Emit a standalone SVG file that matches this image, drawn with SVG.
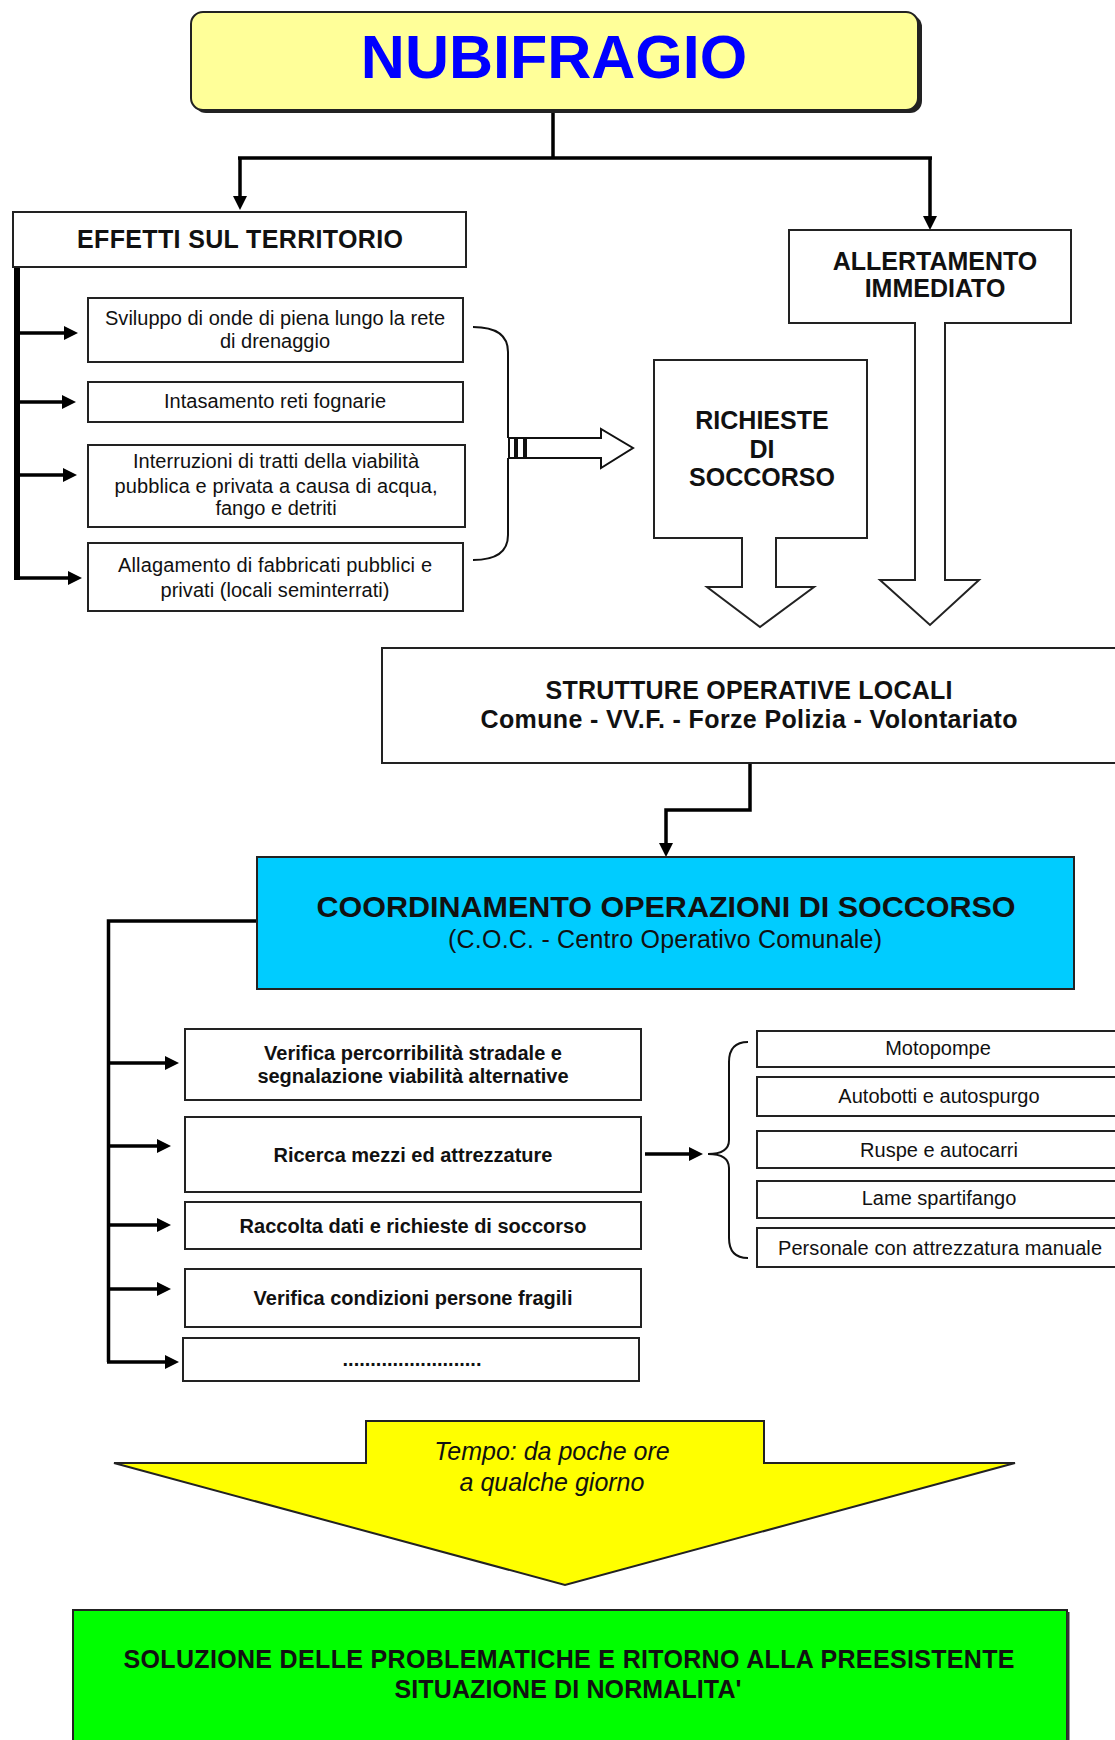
<svg xmlns="http://www.w3.org/2000/svg" width="1115" height="1740" viewBox="0 0 1115 1740">
<defs>
<style>
text{font-family:"Liberation Sans",Arial,sans-serif;fill:#111;text-anchor:middle}
.b{font-weight:bold}
.box{fill:#fff;stroke:#222;stroke-width:2}
.ln{fill:none;stroke:#000;stroke-width:3.5}
.thin{fill:none;stroke:#111;stroke-width:2}
.t20{font-size:20px}
.t25{font-size:25px}
</style>
<marker id="ah" viewBox="0 0 14 14" refX="8" refY="7" markerWidth="14" markerHeight="14" orient="auto" markerUnits="userSpaceOnUse"><path d="M0,0 L14,7 L0,14 z" fill="#000"/></marker>
</defs>
<rect width="1115" height="1740" fill="#fff"/>

<g id="connectors">
<path class="ln" d="M553,111 V158 M238,158 H932"/>
<path class="ln" d="M240,158 V204" marker-end="url(#ah)"/>
<path class="ln" d="M930,158 V224" marker-end="url(#ah)"/>
<path fill="none" stroke="#000" stroke-width="6" d="M17,266 V580"/>
<path class="ln" stroke-width="4" d="M17,333 H72" marker-end="url(#ah)"/>
<path class="ln" stroke-width="4" d="M17,402 H70" marker-end="url(#ah)"/>
<path class="ln" stroke-width="4" d="M17,475 H71" marker-end="url(#ah)"/>
<path class="ln" stroke-width="4" d="M14,578 H76" marker-end="url(#ah)"/>
<path class="thin" d="M473,327 Q508,327 508,352 V438 M508,458 V535 Q508,560 473,560"/>
<g id="striped-arrow">
<rect x="509" y="438" width="6" height="20" fill="#fff" stroke="#111" stroke-width="2"/>
<rect x="517" y="438" width="7" height="20" fill="#fff" stroke="#111" stroke-width="2"/>
<polygon points="526,438 601,438 601,429 633,448 601,468 601,458 526,458" fill="#fff" stroke="#111" stroke-width="2"/>
</g>
<path class="ln" d="M750,763 V810 H666 V851" marker-end="url(#ah)"/>
<path class="ln" d="M257,921 H108.5 V1362"/>
<path class="ln" d="M107,1063 H173" marker-end="url(#ah)"/>
<path class="ln" d="M107,1146 H165" marker-end="url(#ah)"/>
<path class="ln" d="M107,1225 H165" marker-end="url(#ah)"/>
<path class="ln" d="M107,1289 H165" marker-end="url(#ah)"/>
<path class="ln" d="M107,1362 H173" marker-end="url(#ah)"/>
<path class="ln" d="M645,1154 H697" marker-end="url(#ah)"/>
<path class="thin" d="M748,1042 Q729,1042 729,1062 V1140 Q729,1154 708,1154 Q729,1154 729,1168 V1238 Q729,1258 748,1258"/>
</g>

<g id="nubifragio">
<rect x="194" y="15" width="728" height="98" rx="12" fill="#222"/>
<rect x="191" y="12" width="727" height="98" rx="12" fill="#ffff99" stroke="#222" stroke-width="2"/>
<text x="554" y="78" class="b" style="font-size:61px;fill:#0000ff">NUBIFRAGIO</text>
</g>

<g id="effetti">
<rect class="box" x="13" y="212" width="453" height="55"/>
<text x="240" y="248" class="b t25" textLength="326">EFFETTI SUL TERRITORIO</text>
</g>

<g id="effetto-1">
<rect class="box" x="88" y="298" width="375" height="64"/>
<text x="275" y="325" class="t20" textLength="340">Sviluppo di onde di piena lungo la rete</text>
<text x="275" y="348" class="t20">di drenaggio</text>
</g>
<g id="effetto-2">
<rect class="box" x="88" y="382" width="375" height="40"/>
<text x="275" y="408" class="t20" textLength="222">Intasamento reti fognarie</text>
</g>
<g id="effetto-3">
<rect class="box" x="88" y="445" width="377" height="82"/>
<text x="276" y="468" class="t20" textLength="286">Interruzioni di tratti della viabilità</text>
<text x="276" y="493" class="t20" textLength="323">pubblica e privata a causa di acqua,</text>
<text x="276" y="515" class="t20">fango e detriti</text>
</g>
<g id="effetto-4">
<rect class="box" x="88" y="543" width="375" height="68"/>
<text x="275" y="572" class="t20" textLength="314">Allagamento di fabbricati pubblici e</text>
<text x="275" y="597" class="t20" textLength="229">privati (locali seminterrati)</text>
</g>

<g id="allertamento">
<polygon points="789,230 1071,230 1071,323 945,323 945,580 979,580 930,625 880,580 915,580 915,323 789,323" fill="#fff" stroke="#222" stroke-width="2"/>
<text x="935" y="270" class="b t25">ALLERTAMENTO</text>
<text x="935" y="297" class="b t25">IMMEDIATO</text>
</g>

<g id="richieste">
<polygon points="654,360 867,360 867,538 776,538 776,587 814,587 760,627 707,587 742,587 742,538 654,538" fill="#fff" stroke="#222" stroke-width="2"/>
<text x="762" y="429" class="b t25">RICHIESTE</text>
<text x="762" y="458" class="b t25">DI</text>
<text x="762" y="486" class="b t25">SOCCORSO</text>
</g>

<g id="strutture">
<rect class="box" x="382" y="648" width="740" height="115"/>
<text x="749" y="699" class="b t25" textLength="407">STRUTTURE OPERATIVE LOCALI</text>
<text x="749" y="728" class="b t25" textLength="537">Comune - VV.F. - Forze Polizia - Volontariato</text>
</g>

<g id="coc">
<rect x="257" y="857" width="817" height="132" fill="#00ccff" stroke="#222" stroke-width="2"/>
<text x="666" y="917" class="b" style="font-size:30px" textLength="699" lengthAdjust="spacingAndGlyphs">COORDINAMENTO OPERAZIONI DI SOCCORSO</text>
<text x="665" y="948" class="t25" textLength="434">(C.O.C. - Centro Operativo Comunale)</text>
</g>

<g id="azione-1">
<rect class="box" x="185" y="1029" width="456" height="71"/>
<text x="413" y="1060" class="b t20">Verifica percorribilità stradale e</text>
<text x="413" y="1083" class="b t20">segnalazione viabilità alternative</text>
</g>
<g id="azione-2">
<rect class="box" x="185" y="1117" width="456" height="75"/>
<text x="413" y="1162" class="b t20">Ricerca mezzi ed attrezzature</text>
</g>
<g id="azione-3">
<rect class="box" x="185" y="1202" width="456" height="47"/>
<text x="413" y="1233" class="b t20">Raccolta dati e richieste di soccorso</text>
</g>
<g id="azione-4">
<rect class="box" x="185" y="1269" width="456" height="58"/>
<text x="413" y="1305" class="b t20">Verifica condizioni persone fragili</text>
</g>
<g id="azione-5">
<rect class="box" x="183" y="1338" width="456" height="43"/>
<text x="412" y="1366" class="b t20">.........................</text>
</g>

<g id="mezzo-1">
<rect class="box" x="757" y="1031" width="365" height="36"/>
<text x="938" y="1055" class="t20">Motopompe</text>
</g>
<g id="mezzo-2">
<rect class="box" x="757" y="1077" width="365" height="39"/>
<text x="939" y="1103" class="t20">Autobotti e autospurgo</text>
</g>
<g id="mezzo-3">
<rect class="box" x="757" y="1131" width="365" height="37"/>
<text x="939" y="1157" class="t20">Ruspe e autocarri</text>
</g>
<g id="mezzo-4">
<rect class="box" x="757" y="1181" width="365" height="37"/>
<text x="939" y="1205" class="t20">Lame spartifango</text>
</g>
<g id="mezzo-5">
<rect class="box" x="757" y="1228" width="365" height="39"/>
<text x="940" y="1255" class="t20" textLength="324">Personale con attrezzatura manuale</text>
</g>

<g id="tempo">
<polygon points="366,1421 764,1421 764,1463 1015,1463 565,1585 114,1463 366,1463" fill="#ffff00" stroke="#222" stroke-width="2"/>
<text x="552" y="1460" class="t25" style="font-style:italic">Tempo: da poche ore</text>
<text x="552" y="1491" class="t25" style="font-style:italic">a qualche giorno</text>
</g>

<g id="soluzione">
<rect x="73" y="1610" width="994" height="135" fill="#00ff00" stroke="#222" stroke-width="2"/>
<line x1="1068" y1="1612" x2="1068" y2="1740" stroke="#333" stroke-width="3"/>
<text x="569" y="1668" class="b t25" textLength="891">SOLUZIONE DELLE PROBLEMATICHE E RITORNO ALLA PREESISTENTE</text>
<text x="568" y="1698" class="b t25" textLength="347">SITUAZIONE DI NORMALITA'</text>
</g>
</svg>
